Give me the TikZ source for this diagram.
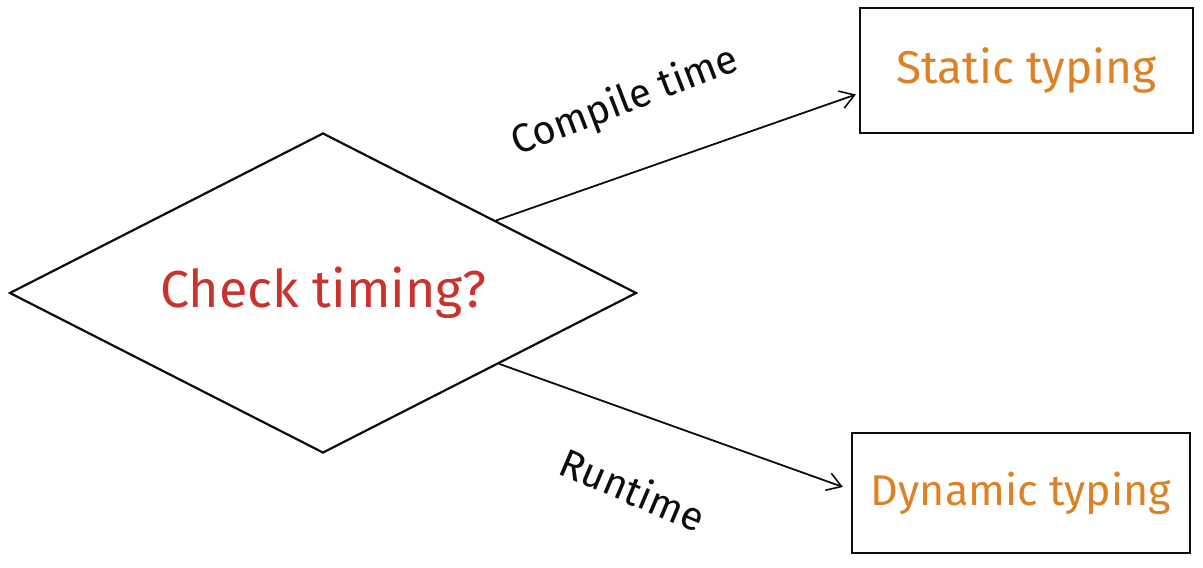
\documentclass[tikz,border=0pt]{standalone}
\usepackage{fontspec}
\setmainfont{Fira Sans}
\usetikzlibrary{arrows.meta, positioning, shapes.geometric, calc}
\definecolor{mainBlack}{gray}{0.05}
\definecolor{checkRed}{RGB}{201,50,45}
\definecolor{typeOrange}{RGB}{221,129,38}

\tikzset{
    decision/.style={diamond, draw=mainBlack, line width=2.2pt, minimum width=627pt, minimum height=320pt, aspect=1.96, inner sep=0pt},
    typebox/.style={rectangle, draw=mainBlack, line width=2.2pt, text=typeOrange},
    flow/.style={->, line width=1.8pt, mainBlack},
    flowlabel/.style={font=\fontsize{40}{44}\selectfont, text=mainBlack}
}

\begin{document}
\begin{tikzpicture}[x=1pt, y=1pt, >={Straight Barb[length=14pt, width=18pt, line width=1.6pt]}]
    \useasboundingbox (0,0) rectangle (1203,568);

    \node[decision, text=checkRed, font=\fontsize{52}{56}\selectfont] (chk) at (323,275) {Check timing?};
    \node[typebox, minimum width=333pt, minimum height=125pt, font=\fontsize{46}{50}\selectfont] (static) at (1026.5,497.5) {Static typing};
    \node[typebox, minimum width=338pt, minimum height=120pt, font=\fontsize{43}{47}\selectfont] (dynamic) at (1021,75) {Dynamic typing};

    \coordinate (cOut) at ($(chk.north)!0.55!(chk.east)$);
    \coordinate (rOut) at ($(chk.east)!0.44!(chk.south)$);
    \coordinate (cIn) at ($(static.west)+(-3,-24)$);
    \coordinate (rIn) at ($(dynamic.west)+(-8,6)$);

    \draw[flow] (cOut) -- (cIn);
    \draw[flow] (rOut) -- (rIn);

    \node[flowlabel, rotate=21] (compile) at (625,466) {Compile time};
    \node[flowlabel, rotate=-23] (runtime) at (633,79) {Runtime};
\end{tikzpicture}
\end{document}
